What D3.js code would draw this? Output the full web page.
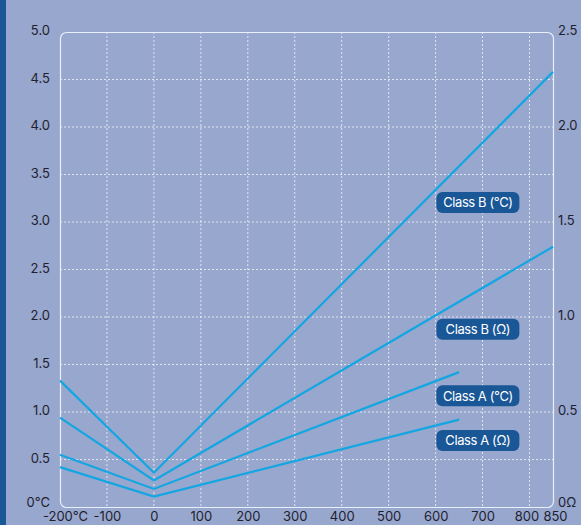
<!DOCTYPE html>
<html>
<head>
<meta charset="utf-8">
<script src="https://cdn.jsdelivr.net/npm/d3@7"></script>
<style>
  html, body { margin: 0; padding: 0; background: #98a7cd; }
  svg { display: block; }
  svg text { font-family: Inter, "Open Sans", sans-serif; }
</style>
</head>
<body>
<svg id="chart"></svg>
<script>
// temperature in °C, tolerance plotted on left axis scale (0-5)
const temps = [-200, 0, 850];
const classBdeg = [1.33, 0.36, 4.58];
const classBohm = [0.94, 0.28, 2.74];
const classAtemps = [-200, 0, 650];
const classAdeg = [0.55, 0.19, 1.42];
const classAohm = [0.42, 0.11, 0.92];

const xTicks = [-200, -100, 0, 100, 200, 300, 400, 500, 600, 700, 800, 850];
const yLeftTicks = [0, 0.5, 1, 1.5, 2, 2.5, 3, 3.5, 4, 4.5, 5];
const yRightTicks = [0, 0.5, 1, 1.5, 2, 2.5];

const labels = ["Class B (°C)", "Class B (Ω)", "Class A (°C)", "Class A (Ω)"];
const labelY = [3.205, 1.87, 1.17, 0.70];
const labelX = 690;

const width = 581, height = 525;
const margin = { top: 32, right: 28, bottom: 18, left: 60 };

const svg = d3.select("#chart").attr("width", width).attr("height", height);

// dark stripe on the left
svg.append("rect").attr("x", 0).attr("y", 0).attr("width", 6).attr("height", height).attr("fill", "#1a5797");

const x = d3.scaleLinear().domain([-200, 850]).range([margin.left, width - margin.right]);
const y = d3.scaleLinear().domain([0, 5]).range([height - margin.bottom, margin.top]);
const y2 = d3.scaleLinear().domain([0, 2.5]).range([height - margin.bottom, margin.top]);

// grid
const grid = svg.append("g")
  .attr("stroke", "#ffffff").attr("stroke-opacity", 0.7)
  .attr("stroke-dasharray", "2,2").attr("stroke-width", 1);

grid.selectAll(".v").data(xTicks.filter(d => d > -200 && d < 850)).enter().append("line")
  .attr("x1", d => x(d)).attr("x2", d => x(d))
  .attr("y1", y(5)).attr("y2", y(0));

grid.selectAll(".h").data(yLeftTicks.filter(d => d > 0 && d < 5)).enter().append("line")
  .attr("x1", x(-200)).attr("x2", x(850))
  .attr("y1", d => y(d)).attr("y2", d => y(d));

// frame
svg.append("rect")
  .attr("x", x(-200) + 0.5).attr("y", y(5) + 0.5)
  .attr("width", x(850) - x(-200)).attr("height", y(0) - y(5))
  .attr("rx", 6)
  .attr("fill", "none").attr("stroke", "#e8eefa").attr("stroke-width", 1.2);

// lines
const line = d3.line().x(d => x(d[0])).y(d => y(d[1]));
const series = [
  d3.zip(temps, classBdeg),
  d3.zip(temps, classBohm),
  d3.zip(classAtemps, classAdeg),
  d3.zip(classAtemps, classAohm)
];
svg.append("g").selectAll("path").data(series).enter().append("path")
  .attr("d", line)
  .attr("fill", "none")
  .attr("stroke", "#12a6e2")
  .attr("stroke-width", 2.2);

const tickFont = "Inter, 'Open Sans', sans-serif";

// X Axis
const xAxis = svg.append("g")
  .attr("transform", `translate(0, ${y(0)})`)
  .call(d3.axisBottom(x).tickValues(xTicks).tickSize(0).tickPadding(5)
    .tickFormat(d => d === -200 ? "-200°C" : d));
xAxis.select(".domain").remove();
xAxis.attr("font-family", tickFont);
xAxis.selectAll("text")
  .attr("font-size", "13px").attr("fill", "#1e2230")
  .attr("dx", d => d === -200 ? 5 : d === 800 ? -3 : d === 850 ? 2 : 0);

// Y Axis left
const yAxis = svg.append("g")
  .attr("transform", `translate(${x(-200)}, 0)`)
  .call(d3.axisLeft(y).tickValues(yLeftTicks).tickSize(0).tickPadding(10)
    .tickFormat(d => d === 0 ? "0°C" : d3.format(".1f")(d)));
yAxis.select(".domain").remove();
yAxis.attr("font-family", tickFont);
yAxis.selectAll("text")
  .attr("font-size", "13px").attr("fill", "#1e2230")
  .attr("dy", d => d === 0 ? "-0.05em" : "0.2em");

// Y Axis right
const yAxis2 = svg.append("g")
  .attr("transform", `translate(${x(850)}, 0)`)
  .call(d3.axisRight(y2).tickValues(yRightTicks).tickSize(0).tickPadding(5)
    .tickFormat(d => d === 0 ? "0Ω" : d3.format(".1f")(d)));
yAxis2.select(".domain").remove();
yAxis2.attr("font-family", tickFont);
yAxis2.selectAll("text")
  .attr("font-size", "13px").attr("fill", "#1e2230")
  .attr("dy", d => d === 0 ? "-0.05em" : "0.2em");

// Labels
const lab = svg.append("g").selectAll("g").data(labels).enter().append("g")
  .attr("transform", (d, i) => `translate(${x(labelX)}, ${y(labelY[i])})`);
lab.append("rect")
  .attr("x", -41.5).attr("y", -10.5).attr("width", 83).attr("height", 21)
  .attr("rx", 6).attr("fill", "#1a5797");
lab.append("text")
  .attr("text-anchor", "middle").attr("dy", "0.36em")
  .attr("font-family", tickFont)
  .attr("font-size", "13px").attr("fill", "#ffffff")
  .attr("letter-spacing", "-0.4px")
  .text(d => d);
</script>
</body>
</html>
